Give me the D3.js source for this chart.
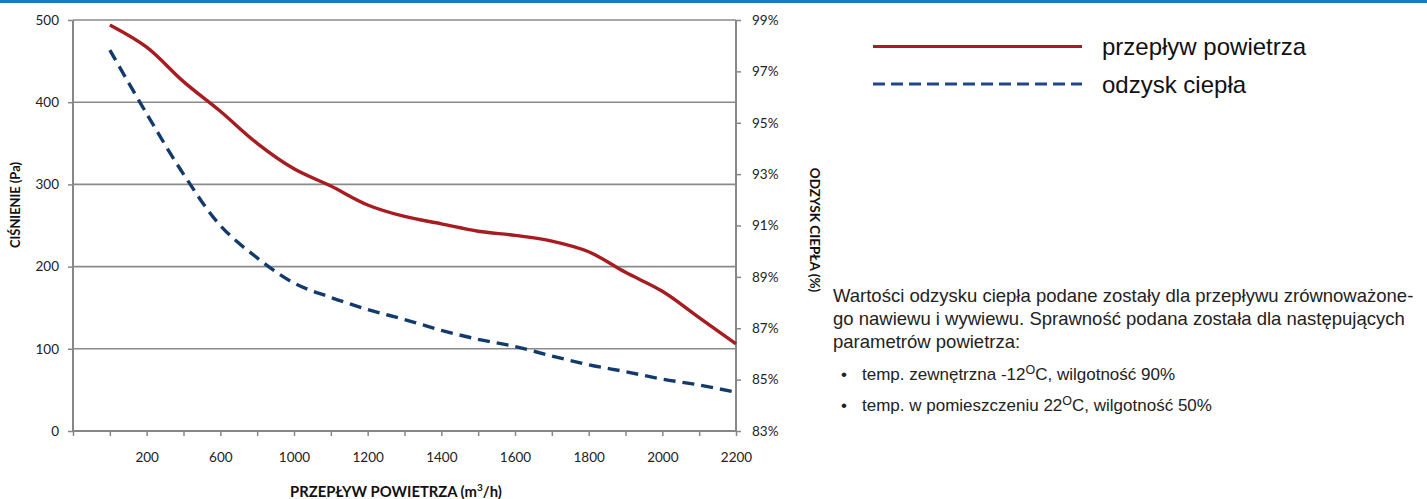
<!DOCTYPE html>
<html>
<head>
<meta charset="utf-8">
<script src="https://cdn.jsdelivr.net/npm/d3@7/dist/d3.min.js"></script>
<style>
  html, body { margin: 0; padding: 0; background: #fff; }
  svg { display: block; }
</style>
</head>
<body>
<svg id="chart" width="1427" height="499"></svg>
<script>
// ---- data ----
const xTickLabels = ["", "", "200", "", "600", "", "1000", "", "1200", "", "1400", "", "1600", "", "1800", "", "2000", "", "2200"];
const pointIndex = [1, 2, 3, 4, 5, 6, 7, 8, 9, 10, 11, 12, 13, 14, 15, 16, 17, 18];
const pressurePa = [494, 467, 425, 389, 350, 319, 298, 275, 261, 252, 243, 238, 231, 218, 193, 170, 138, 106];
const heatRecovery = [97.83, 95.35, 93.0, 91.0, 89.74, 88.76, 88.2, 87.73, 87.34, 86.92, 86.57, 86.29, 85.92, 85.58, 85.31, 85.02, 84.79, 84.51];
const leftTicks = [0, 100, 200, 300, 400, 500];
const rightTicks = [83, 85, 87, 89, 91, 93, 95, 97, 99];
const seriesNames = ["przepływ powietrza", "odzysk ciepła"];
const noteLines = [
  "Wartości odzysku ciepła podane zostały dla przepływu zrównoważone-",
  "go nawiewu i wywiewu. Sprawność podana została dla następujących",
  "parametrów powietrza:"
];
const bulletItems = [
  ["temp. zewnętrzna -12", "O", "C, wilgotność 90%"],
  ["temp. w pomieszczeniu 22", "O", "C, wilgotność 50%"]
];

// ---- layout ----
const svg = d3.select("#chart");
const L = 73, R = 736, T = 20, B = 431;
const RED = "#a61c20", NAVY = "#123b6c", GRID = "#8a8a8a";
const tickFont = "Lato, 'Open Sans', sans-serif";

svg.append("rect").attr("x", 0).attr("y", 0).attr("width", 1427).attr("height", 3).attr("fill", "#1b79c0");

const x = d3.scaleLinear().domain([0, xTickLabels.length - 1]).range([L, R]);
const yL = d3.scaleLinear().domain([0, 500]).range([B, T]);
const yR = d3.scaleLinear().domain([83, 99]).range([B, T]);

// gridlines
svg.append("g").selectAll("line").data(leftTicks.filter(d => d > 0)).join("line")
  .attr("x1", L).attr("x2", R).attr("y1", d => yL(d)).attr("y2", d => yL(d))
  .attr("stroke", GRID).attr("stroke-width", 1.6);

// left axis
const gl = svg.append("g").attr("transform", `translate(${L},0)`)
  .call(d3.axisLeft(yL).tickValues(leftTicks).tickSize(5).tickPadding(9));
// right axis
const gr = svg.append("g").attr("transform", `translate(${R},0)`)
  .call(d3.axisRight(yR).tickValues(rightTicks).tickSize(5).tickPadding(11).tickFormat(d => d + "%"));
// bottom axis
const gb = svg.append("g").attr("transform", `translate(0,${B})`)
  .call(d3.axisBottom(x).tickValues(d3.range(xTickLabels.length)).tickSize(5).tickPadding(16)
    .tickFormat(i => xTickLabels[i]));

[gl, gr, gb].forEach(g => {
  g.select(".domain").attr("stroke", "#878787").attr("stroke-width", 2);
  g.selectAll(".tick line").attr("stroke", "#878787").attr("stroke-width", 1.5);
  g.selectAll("text").attr("font-family", tickFont).attr("font-size", 13.5).attr("fill", "#222");
});
gl.select(".domain").attr("d", `M0,${T}V${B}`);
gr.select(".domain").attr("d", `M0,${T}V${B}`);
gb.select(".domain").attr("d", `M${L},0H${R}`);

// lines
const redLine = d3.line().x((d, i) => x(pointIndex[i])).y(d => yL(d)).curve(d3.curveCatmullRom.alpha(0.5));
const blueLine = d3.line().x((d, i) => x(pointIndex[i])).y(d => yR(d)).curve(d3.curveCatmullRom.alpha(0.5));

svg.append("path").datum(heatRecovery).attr("d", blueLine)
  .attr("fill", "none").attr("stroke", NAVY).attr("stroke-width", 3.4)
  .attr("stroke-dasharray", "12,7");
svg.append("path").datum(pressurePa).attr("d", redLine)
  .attr("fill", "none").attr("stroke", RED).attr("stroke-width", 3.4);

// axis titles
const titleFont = "Lato, 'Open Sans', sans-serif";
svg.append("text").attr("transform", `translate(20,205) rotate(-90)`)
  .attr("text-anchor", "middle").attr("font-family", titleFont).attr("font-weight", "bold")
  .attr("font-size", 13.5).attr("textLength", 86).attr("lengthAdjust", "spacingAndGlyphs")
  .attr("fill", "#111").text("CIŚNIENIE (Pa)");
svg.append("text").attr("transform", `translate(810,230) rotate(90)`)
  .attr("text-anchor", "middle").attr("font-family", titleFont).attr("font-weight", "bold")
  .attr("font-size", 13.5).attr("fill", "#111").text("ODZYSK CIEPŁA (%)");
const xt = svg.append("text").attr("x", 396).attr("y", 497)
  .attr("text-anchor", "middle").attr("font-family", titleFont).attr("font-weight", "bold")
  .attr("font-size", 14.8).attr("fill", "#111");
xt.append("tspan").text("PRZEPŁYW POWIETRZA (m");
xt.append("tspan").attr("font-size", 10).attr("dy", -6).text("3");
xt.append("tspan").attr("dy", 6).text("/h)");

// legend
const legFont = "'Liberation Sans', Arial, sans-serif";
const leg = svg.append("g");
leg.append("line").attr("x1", 873).attr("x2", 1082).attr("y1", 46.5).attr("y2", 46.5)
  .attr("stroke", RED).attr("stroke-width", 3);
leg.append("line").attr("x1", 873).attr("x2", 1082).attr("y1", 84).attr("y2", 84)
  .attr("stroke", "#22468c").attr("stroke-width", 3).attr("stroke-dasharray", "12,6");
leg.selectAll("text").data(seriesNames).join("text")
  .attr("x", 1102).attr("y", (d, i) => i === 0 ? 55 : 92.5)
  .attr("font-family", legFont).attr("font-size", 24).attr("fill", "#111").text(d => d);

// note
const note = svg.append("g").attr("font-family", legFont).attr("fill", "#222");
note.selectAll("text.l").data(noteLines).join("text").attr("class", "l")
  .attr("x", 833).attr("y", (d, i) => 302 + i * 23)
  .attr("font-size", 18.5)
  .text(d => d);
bulletItems.forEach((b, i) => {
  const yy = 380 + i * 30.5;
  note.append("text").attr("x", 841).attr("y", yy).attr("font-size", 17).text("•");
  const t = note.append("text").attr("x", 862).attr("y", yy).attr("font-size", 17);
  t.append("tspan").text(b[0]);
  t.append("tspan").attr("font-size", 12.5).attr("dy", -6).text(b[1]);
  t.append("tspan").attr("dy", 6).text(b[2]);
});
</script>
</body>
</html>
